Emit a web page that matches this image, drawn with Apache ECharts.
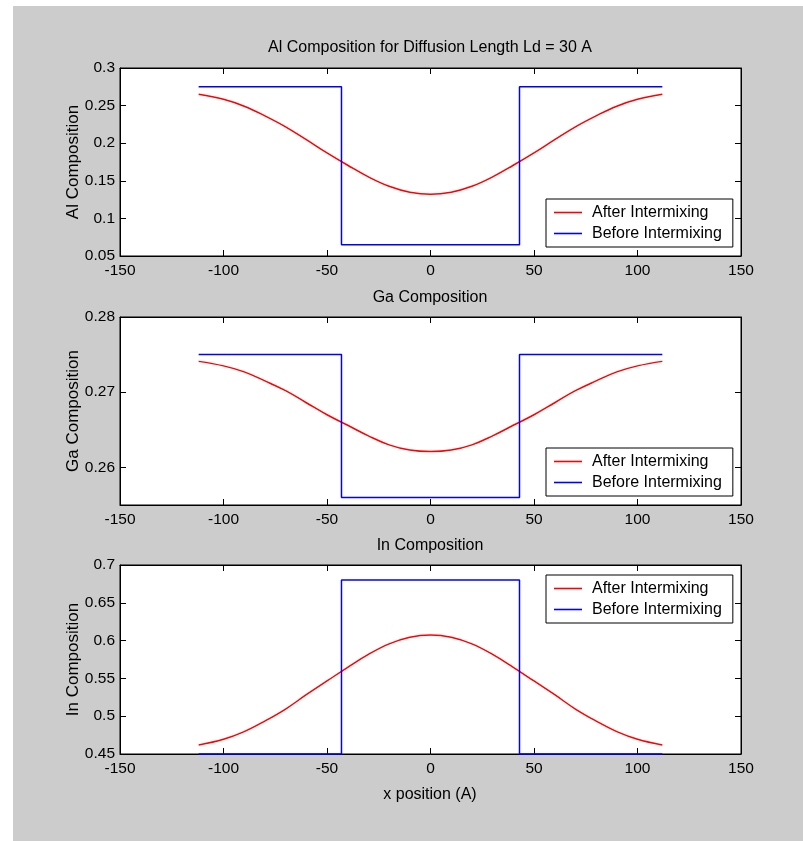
<!DOCTYPE html>
<html>
<head>
<meta charset="utf-8">
<script src="https://cdn.jsdelivr.net/npm/echarts@6/dist/echarts.min.js"></script>
<style>
html,body{margin:0;padding:0;background:#ffffff;width:803px;height:841px;overflow:hidden;}
#bg{position:absolute;left:13px;top:6px;right:0;bottom:0;background:#cccccc;}
#chart{position:absolute;left:0;top:0;width:803px;height:841px;}
</style>
</head>
<body>
<div id="bg"></div>
<div id="chart"></div>
<script>
// ---- data ----
const xPos = [-112,-100,-90,-80,-70,-60,-50,-40,-30,-20,-10,0,10,20,30,40,50,60,70,80,90,100,112];
const alAfter = [0.265,0.2584,0.2492,0.2364,0.2218,0.2047,0.1871,0.1707,0.1552,0.1427,0.1348,0.132,0.1348,0.1427,0.1552,0.1707,0.1871,0.2047,0.2218,0.2364,0.2492,0.2584,0.265];
const gaAfter = [0.2741,0.2735,0.2727,0.2715,0.2702,0.2686,0.267,0.2656,0.2642,0.263,0.2623,0.2621,0.2623,0.263,0.2642,0.2656,0.267,0.2686,0.2702,0.2715,0.2727,0.2735,0.2741];
const inAfter = [0.4619,0.4695,0.4796,0.4936,0.5095,0.5284,0.5466,0.5647,0.5817,0.5956,0.6044,0.6074,0.6044,0.5956,0.5817,0.5647,0.5466,0.5284,0.5095,0.4936,0.4796,0.4695,0.4619];
const stepX = [-112,-43,-43,43,43,112];
const alBefore = [0.275,0.275,0.065,0.065,0.275,0.275];
const gaBefore = [0.275,0.275,0.256,0.256,0.275,0.275];
const inBefore = [0.45,0.45,0.68,0.68,0.45,0.45];
const xTicks = {min:-150, max:150, interval:50};
const alTicks = {min:0.05, max:0.3, interval:0.05};
const gaTicks = {min:0.255, max:0.28, labels:[0.26,0.27,0.28]};
const inTicks = {min:0.45, max:0.7, interval:0.05};
const titles = ['Al Composition for Diffusion Length Ld = 30 A','Ga Composition','In Composition'];
const yNames = ['Al Composition','Ga Composition','In Composition'];
const xName = 'x position (A)';
const seriesNames = ['After Intermixing','Before Intermixing'];

// ---- layout ----
const FONT = '"Liberation Sans", Arial, Helvetica, sans-serif';
const grids = [
  {left:120, right:62, top:68, height:188},
  {left:120, right:62, top:317, height:188},
  {left:120, right:62, top:565, height:189}
];
const titleY = [48, 298, 546];
const legendTop = [199, 448, 575];

function pairs(xs, ys){ return xs.map((x,i)=>[x, ys[i]]); }

const xAxes = [], yAxes = [];
const yCfg = [alTicks, gaTicks, inTicks];
grids.forEach((g, i) => {
  ['bottom','top'].forEach(pos => {
    xAxes.push({
      type:'value', gridIndex:i, position:pos,
      min:xTicks.min, max:xTicks.max, interval:xTicks.interval,
      axisLine:{show:true, onZero:false, lineStyle:{color:'#000', width:1}},
      axisTick:{show:true, inside:true, length:6, lineStyle:{color:'#000', width:1}},
      axisLabel:{show:pos==='bottom', color:'#000', fontSize:15.5, fontFamily:FONT, margin:7},
      splitLine:{show:false}
    });
  });
  ['left','right'].forEach(pos => {
    const c = yCfg[i];
    const ax = {
      type:'value', gridIndex:i, position:pos,
      min:c.min, max:c.max,
      axisLine:{show:true, onZero:false, lineStyle:{color:'#000', width:1}},
      axisTick:{show:true, inside:true, length:6, lineStyle:{color:'#000', width:1}},
      axisLabel:{show:pos==='left', color:'#000', fontSize:15.5, fontFamily:FONT, margin:5},
      splitLine:{show:false}
    };
    if (c.interval) ax.interval = c.interval;
    if (c.labels) {
      ax.axisLabel.customValues = c.labels;
      ax.axisTick.customValues = c.labels;
    }
    if (pos === 'left') {
      ax.name = yNames[i];
      ax.nameLocation = 'middle';
      ax.nameGap = 38;
      ax.nameMoveOverlap = false;
      ax.nameTextStyle = {color:'#000', fontSize:17, fontFamily:FONT};
    }
    yAxes.push(ax);
  });
});

const redData = [alAfter, gaAfter, inAfter];
const blueData = [alBefore, gaBefore, inBefore];
const series = [];
grids.forEach((g, i) => {
  series.push({
    name:seriesNames[0], type:'line', xAxisIndex:2*i, yAxisIndex:2*i,
    data:pairs(xPos, redData[i]), smooth:0.4, showSymbol:false, symbol:'none',
    lineStyle:{color:'#ff0000', width:1.5}, itemStyle:{color:'#ff0000'}, clip:false, z:3, silent:true
  });
  series.push({
    name:seriesNames[1], type:'line', xAxisIndex:2*i, yAxisIndex:2*i,
    data:pairs(stepX, blueData[i]), showSymbol:false, symbol:'none',
    lineStyle:{color:'#0000ff', width:1.5}, itemStyle:{color:'#0000ff'}, clip:false, z:4, silent:true
  });
});

const legends = legendTop.map(t => ({
  left:546, top:t, orient:'vertical',
  data:seriesNames, icon:'rect', itemWidth:28, itemHeight:1.6, itemGap:4,
  padding:[5,11,5,8], backgroundColor:'#fff', borderColor:'#000', borderWidth:1, borderRadius:0,
  textStyle:{color:'#000', fontSize:16, fontFamily:FONT, lineHeight:17, padding:[0,0,0,5]},
  selectedMode:false
}));

const graphics = titles.map((t, i) => ({
  type:'text', x:430, y:titleY[i],
  style:{text:t, fill:'#000', font:'16px ' + FONT, textAlign:'center', textVerticalAlign:'middle'}
}));
graphics.push({
  type:'text', x:430, y:795,
  style:{text:xName, fill:'#000', font:'16px ' + FONT, textAlign:'center', textVerticalAlign:'middle'}
});

const chart = echarts.init(document.getElementById('chart'), null, {renderer:'canvas'});
chart.setOption({
  backgroundColor:'transparent',
  animation:false,
  grid:grids.map(g => Object.assign({show:true, backgroundColor:'#ffffff', borderColor:'#000', borderWidth:1}, g)),
  xAxis:xAxes,
  yAxis:yAxes,
  legend:legends,
  graphic:graphics,
  series:series
});
</script>
</body>
</html>
